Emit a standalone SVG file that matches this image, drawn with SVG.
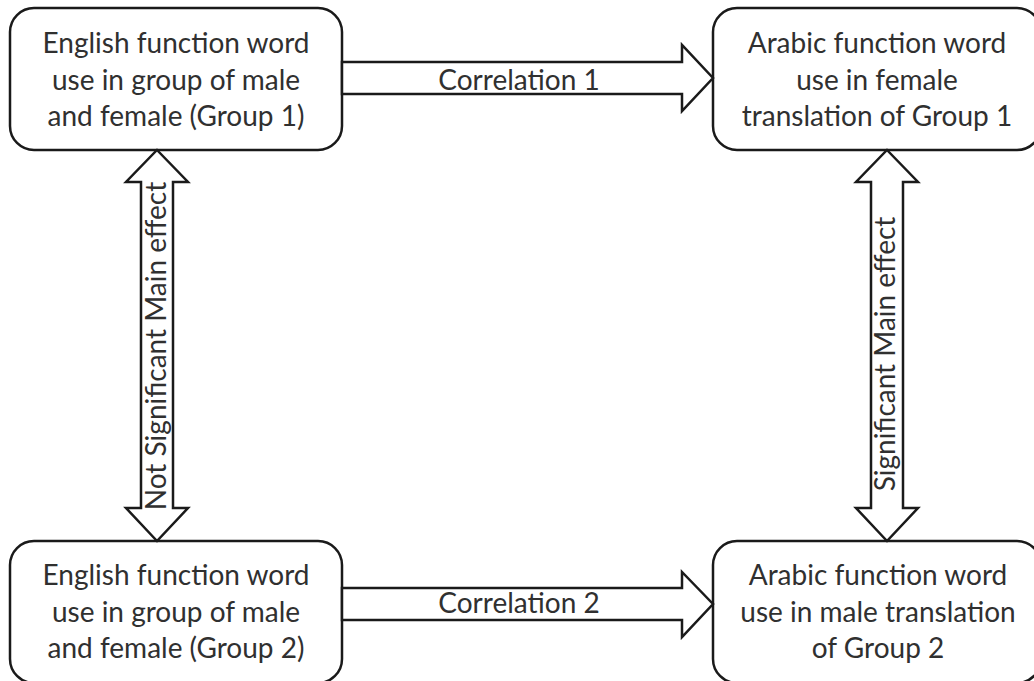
<svg xmlns="http://www.w3.org/2000/svg" width="1034" height="681" viewBox="0 0 1034 681">
<style>
.box{fill:#fff;stroke:#1a1a1a;stroke-width:2.5}
.arr{fill:#fff;stroke:#1a1a1a;stroke-width:2.5;stroke-linejoin:miter}
text{font-family:Lato,"Open Sans","Liberation Sans",sans-serif;font-size:28px;fill:#303030;text-anchor:middle}
</style>
<rect width="1034" height="681" fill="#fff"/>
<g id="node-eng1">
<rect class="box" x="10" y="8" width="332" height="142" rx="24"/>
<text x="176" y="53">English function word</text>
<text x="176" y="90">use in group of male</text>
<text x="176" y="126">and female (Group 1)</text>
</g>
<g id="node-ar1">
<rect class="box" x="713" y="8" width="328" height="142" rx="24"/>
<text x="877" y="53">Arabic function word</text>
<text x="877" y="90">use in female</text>
<text x="877" y="126">translation of Group 1</text>
</g>
<g id="node-eng2">
<rect class="box" x="10" y="541" width="332" height="142" rx="24"/>
<text x="176" y="585">English function word</text>
<text x="176" y="622">use in group of male</text>
<text x="176" y="658">and female (Group 2)</text>
</g>
<g id="node-ar2">
<rect class="box" x="713" y="541" width="328" height="142" rx="24"/>
<text x="878" y="585">Arabic function word</text>
<text x="878" y="622">use in male translation</text>
<text x="878" y="658">of Group 2</text>
</g>
<g id="connectors">
<polygon class="arr" points="342,62 682,62 682,45 713,78 682,111 682,94 342,94"/>
<text x="519" y="90">Correlation 1</text>
<polygon class="arr" points="342,588 682,588 682,572 713,604 682,637 682,620 342,620"/>
<text x="519" y="613">Correlation 2</text>
<polygon class="arr" points="157,150 188,182 173,182 173,508 188,508 157,541 126,508 141,508 141,182 126,182"/>
<text transform="translate(166,346) rotate(-90)">Not Significant Main effect</text>
<polygon class="arr" points="887,150 918,182 903,182 903,508 918,508 887,541 856,508 871,508 871,182 856,182"/>
<text transform="translate(895,354) rotate(-90)">Significant Main effect</text>
</g>
</svg>
